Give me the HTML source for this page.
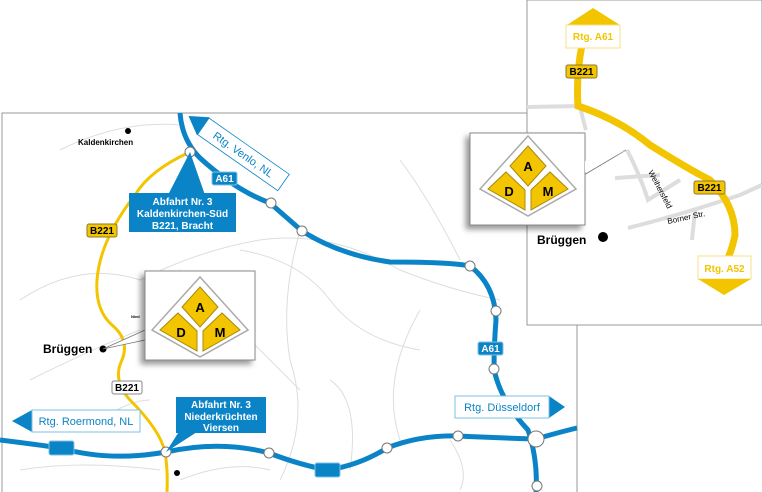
<!DOCTYPE html>
<html><head><meta charset="utf-8"><style>
html,body{margin:0;padding:0;background:#fff}
svg{display:block;font-family:"Liberation Sans",Arial,sans-serif}
</style></head><body>
<svg width="762" height="492" viewBox="0 0 762 492" xmlns="http://www.w3.org/2000/svg">
<defs>
<g id="logo">
<polygon points="0,-44 48,9 0,36 -48,9" fill="#fff" stroke="#aaa" stroke-width="1.5"/>
<polygon points="0,-34 18,-14 0,6 -18,-14" fill="#f2c500" stroke="#a88a10" stroke-width="1"/>
<polygon points="-40,9 -22,-8 -3,10 -3,30" fill="#f2c500" stroke="#a88a10" stroke-width="1"/>
<polygon points="40,9 22,-8 3,10 3,30" fill="#f2c500" stroke="#a88a10" stroke-width="1"/>
<text x="0" y="-9" font-size="13" font-weight="bold" text-anchor="middle">A</text>
<text x="-19" y="16" font-size="13" font-weight="bold" text-anchor="middle">D</text>
<text x="20" y="16" font-size="13" font-weight="bold" text-anchor="middle">M</text>
</g>
<filter id="sh" x="-20%" y="-20%" width="150%" height="150%"><feDropShadow dx="-4" dy="4" stdDeviation="3" flood-color="#000" flood-opacity="0.4"/></filter>
</defs>
<rect x="2" y="113" width="575" height="390" fill="#fff" stroke="#999" stroke-width="1"/>
<g fill="none" stroke="#ddd" stroke-width="1">
<path d="M60,150 Q120,120 180,125"/>
<path d="M20,300 Q80,260 140,280 Q200,250 260,240 Q330,230 400,270 Q450,290 500,300"/>
<path d="M300,231 Q280,300 290,360 Q310,420 280,480"/>
<path d="M180,270 Q240,330 300,390"/>
<path d="M420,310 Q380,380 400,440"/>
<path d="M30,380 Q90,350 140,330"/>
<path d="M240,250 Q300,260 330,300 Q360,340 420,350"/>
<path d="M20,470 Q80,460 160,470"/>
<path d="M450,440 Q470,470 460,490"/>
<path d="M180,480 Q230,460 270,470"/>
<path d="M400,160 Q430,200 460,260"/>
<path d="M330,380 Q360,400 350,470"/>
<path d="M100,420 Q130,400 150,400"/>
</g>
<path d="M190,152 Q150,170 135,195 Q100,240 97,280 Q95,310 112,325 Q130,340 122,360 Q112,380 130,400 Q160,430 165,452 Q168,470 167,492" fill="none" stroke="#f2c500" stroke-width="3"/>
<g fill="none" stroke="#0a84c6" stroke-width="5">
<path d="M180,113 Q182,140 200,158 Q235,190 270,203 L302,231 Q340,255 390,262 Q450,262 470,266 Q495,285 496,320 Q494,345 494,369 Q500,400 528,430 Q538,460 536,492"/>
<path d="M0,440 Q40,445 60,448 Q110,462 166,452 Q220,440 269,453 Q300,465 328,470 Q360,465 387,448 Q420,435 458,436 Q500,438 536,439 Q560,432 577,428"/>
</g>
<rect x="49" y="441" width="25" height="14" rx="2" fill="#0a84c6" stroke="#7fc0e4"/>
<rect x="315" y="463" width="25" height="14" rx="2" fill="#0a84c6" stroke="#7fc0e4"/>
<g fill="#fff" stroke="#777" stroke-width="1">
<circle cx="190" cy="152" r="5"/><circle cx="271" cy="203" r="5"/><circle cx="302" cy="231" r="5"/>
<circle cx="470" cy="266" r="5"/><circle cx="496" cy="311" r="5"/><circle cx="494" cy="369" r="5"/>
<circle cx="166" cy="452" r="5"/><circle cx="269" cy="453" r="5"/><circle cx="387" cy="448" r="5"/>
<circle cx="458" cy="436" r="5"/><circle cx="536" cy="439" r="8"/><circle cx="537" cy="486" r="5"/>
</g>
<g font-size="10" font-weight="bold" fill="#fff" text-anchor="middle">
<rect x="212" y="172" width="25" height="13" rx="2" fill="#0a84c6" stroke="#7fc0e4"/><text x="224.5" y="182">A61</text>
<rect x="478" y="342" width="25" height="13" rx="2" fill="#0a84c6" stroke="#7fc0e4"/><text x="490.5" y="352">A61</text>
</g>
<rect x="87" y="224" width="30" height="13" rx="2" fill="#f2c500" stroke="#8a7a30"/><text x="102" y="234" font-size="10" font-weight="bold" text-anchor="middle">B221</text>
<rect x="112" y="381" width="30" height="13" rx="2" fill="#fff" stroke="#888"/><text x="127" y="391" font-size="10" font-weight="bold" text-anchor="middle">B221</text>
<circle cx="128" cy="131" r="3" fill="#000"/><text x="78" y="145" font-size="8" font-weight="bold">Kaldenkirchen</text>
<circle cx="103" cy="349" r="3.5" fill="#000"/><text x="43" y="353" font-size="12" font-weight="bold">Brüggen</text>
<circle cx="177" cy="473" r="3" fill="#000"/>
<polygon points="190,152 168,195 205,195" fill="#0a84c6"/>
<rect x="129" y="193" width="107" height="39" fill="#0a84c6"/>
<g font-size="10" font-weight="bold" fill="#fff" text-anchor="middle">
<text x="182.5" y="205">Abfahrt Nr. 3</text><text x="182.5" y="217">Kaldenkirchen-Süd</text><text x="182.5" y="229">B221, Bracht</text>
</g>
<polygon points="166,452 180,430 200,430" fill="#0a84c6"/>
<rect x="176" y="397" width="90" height="36" fill="#0a84c6"/>
<g font-size="10" font-weight="bold" fill="#fff" text-anchor="middle">
<text x="221" y="408">Abfahrt Nr. 3</text><text x="221" y="420">Niederkrüchten</text><text x="221" y="431">Viersen</text>
</g>
<g transform="translate(200,124) rotate(35)">
<polygon points="4,-11 -14,0 4,11" fill="#0a84c6"/>
<rect x="4" y="-10" width="98" height="20" fill="#fff" stroke="#0a84c6" stroke-width="0.8"/>
<text x="53" y="4" font-size="11" fill="#0a84c6" text-anchor="middle">Rtg. Venlo, NL</text>
</g>
<polygon points="12,421 32,410 32,432" fill="#0a84c6"/>
<rect x="32" y="410" width="108" height="22" fill="#fff" stroke="#7fc0e4"/>
<text x="86" y="425" font-size="11" fill="#0a84c6" text-anchor="middle">Rtg. Roermond, NL</text>
<polygon points="565,407 549,396 549,418" fill="#0a84c6"/>
<rect x="455" y="396" width="94" height="22" fill="#fff" stroke="#7fc0e4"/>
<text x="502" y="411" font-size="11" fill="#0a84c6" text-anchor="middle">Rtg. Düsseldorf</text>
<polygon points="103,349 145,330 145,340" fill="#fff" stroke="#777" stroke-width="0.8"/>
<text x="131" y="318" font-size="4" font-weight="bold">Nied</text>
<rect x="145" y="271" width="110" height="89" fill="#fff" stroke="#888" filter="url(#sh)"/>
<use href="#logo" x="200" y="321"/>
<rect x="527" y="0" width="235" height="325" fill="#fff" stroke="#999"/>
<g fill="none" stroke="#ddd" stroke-width="4">
<path d="M527,107 L580,106"/><path d="M580,106 Q583,120 586,130"/>
<path d="M627,150 Q640,175 648,200 L680,180"/><path d="M615,178 L660,175"/>
<path d="M628,228 Q680,215 740,195 L762,185"/><path d="M695,210 L692,240"/>
</g>
<path d="M582,45 Q576,75 578,106 Q620,120 650,145 Q690,170 710,180 Q735,205 735,235 Q732,250 727,260" fill="none" stroke="#f2c500" stroke-width="7"/>
<polygon points="567,25 593,8 620,25" fill="#f2c500"/>
<rect x="566" y="25" width="54" height="23" fill="#fff" stroke="#f5e08a"/>
<text x="593" y="40" font-size="10" font-weight="bold" fill="#f2c500" text-anchor="middle">Rtg. A61</text>
<rect x="698" y="256" width="53" height="23" fill="#fff" stroke="#f5e08a"/>
<polygon points="698,279 724,295 751,279" fill="#f2c500"/>
<text x="724.5" y="272" font-size="10" font-weight="bold" fill="#f2c500" text-anchor="middle">Rtg. A52</text>
<rect x="566" y="65" width="31" height="13" rx="2" fill="#f2c500" stroke="#8a7a30"/><text x="581.5" y="75" font-size="10" font-weight="bold" text-anchor="middle">B221</text>
<rect x="694" y="181" width="31" height="13" rx="2" fill="#f2c500" stroke="#8a7a30"/><text x="709.5" y="191" font-size="10" font-weight="bold" text-anchor="middle">B221</text>
<text transform="translate(648,172) rotate(62)" font-size="8">Weihersfeld</text>
<text transform="translate(668,224) rotate(-12)" font-size="8">Borner Str.</text>
<circle cx="603" cy="237" r="5" fill="#000"/><text x="537" y="244" font-size="12" font-weight="bold">Brüggen</text>
<polygon points="584,165 626,150 584,175" fill="#fff" stroke="#777" stroke-width="0.8"/>
<rect x="470" y="133" width="115" height="92" fill="#fff" stroke="#888" filter="url(#sh)"/>
<polygon points="585,161 626,150 585,172" fill="#fff"/>
<use href="#logo" x="528" y="180"/>
</svg>
</body></html>
